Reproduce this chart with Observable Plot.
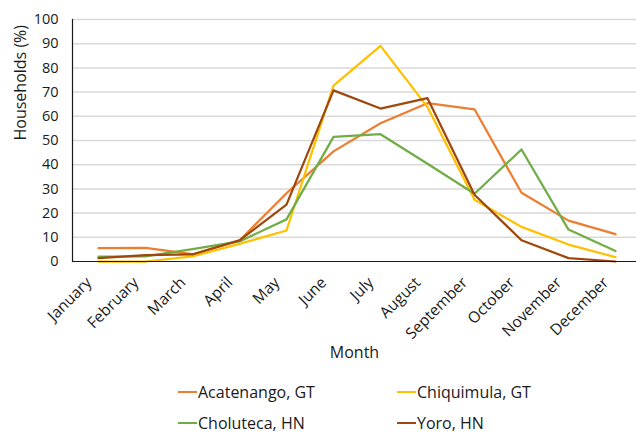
<!DOCTYPE html>
<html>
<head>
<meta charset="utf-8">
<script src="https://cdn.jsdelivr.net/npm/d3@7"></script>
<script src="https://cdn.jsdelivr.net/npm/@observablehq/plot@0.6"></script>
<style>
  html, body { margin: 0; padding: 0; background: #fff; }
  #wrap { width: 636px; font-family: "Open Sans", sans-serif; color: #1a1a1a; }
  #legend { position: relative; width: 636px; height: 63px; font-size: 16px; }
  .item { position: absolute; display: flex; align-items: center; height: 20px; white-space: nowrap; }
  .swatch { width: 19px; height: 2.5px; margin-right: 1px; }
</style>
</head>
<body>
<div id="wrap">
  <div id="chart"></div>
  <div id="legend"></div>
</div>
<script>
const months = ["January","February","March","April","May","June","July","August","September","October","November","December"];
const seriesNames = ["Acatenango, GT","Chiquimula, GT","Choluteca, HN","Yoro, HN"];
const seriesColors = ["#ED7D31","#FFC000","#70AD47","#9E480E"];
const acatenango = [5.5, 5.6, 3.0, 8.7, 28.2, 45.5, 57.1, 65.4, 62.9, 28.4, 16.9, 11.3];
const chiquimula = [0, 0, 2.1, 7.3, 12.8, 72.7, 89.1, 63.8, 25.5, 14.3, 7.0, 1.8];
const choluteca  = [2.0, 2.1, 5.1, 8.3, 17.4, 51.5, 52.6, 40.4, 28.0, 46.3, 13.2, 4.3];
const yoro       = [1.4, 2.6, 2.9, 8.7, 23.5, 70.7, 63.2, 67.5, 27.6, 8.8, 1.4, 0];
const yTicks = [0,10,20,30,40,50,60,70,80,90,100];
const yLabel = "Households (%)";
const xLabel = "Month";

const seriesValues = [acatenango, chiquimula, choluteca, yoro];
const data = seriesNames.flatMap((s, j) => months.map((m, i) => ({month: m, series: s, value: seriesValues[j][i]})));

const chart = Plot.plot({
  width: 636,
  height: 370,
  marginLeft: 72,
  marginRight: 0,
  marginTop: 19,
  marginBottom: 109,
  style: {fontFamily: "'Open Sans', sans-serif", fontSize: "15px", color: "#1a1a1a", background: "#fff"},
  x: {type: "point", domain: months, range: [96, 617], padding: 0, axis: null},
  y: {domain: [0, 100], axis: null},
  color: {domain: seriesNames, range: seriesColors},
  marks: [
    Plot.ruleY(yTicks.filter(d => d > 0), {stroke: "#d9d9d9", strokeWidth: 1.5}),
    Plot.axisY({ticks: yTicks, tickSize: 0, tickPadding: 14, label: null, fontSize: 14.5}),
    Plot.text([yLabel], {frameAnchor: "left", dx: -52, rotate: -90, fontSize: 16}),
    Plot.text(months, {x: d => d, frameAnchor: "bottom", dx: -6, dy: 22, rotate: -45, textAnchor: "end", fontSize: 15.5}),
    Plot.text([xLabel], {frameAnchor: "bottom", dy: 96, fontSize: 16}),
    Plot.line(data, {x: "month", y: "value", z: "series", stroke: "series", strokeWidth: 2.25, strokeLinejoin: "round"}),
    Plot.ruleY([0], {stroke: "#1a1a1a", strokeWidth: 1.2}),
    Plot.frame({anchor: "left", stroke: "#1a1a1a", strokeWidth: 1.2})
  ]
});
document.getElementById("chart").appendChild(chart);

const legend = document.getElementById("legend");
const pos = [[178, 12], [397, 12], [178, 43], [397, 43]];
seriesNames.forEach((s, i) => {
  const it = document.createElement("div");
  it.className = "item";
  it.style.left = pos[i][0] + "px";
  it.style.top = pos[i][1] + "px";
  const sw = document.createElement("span");
  sw.className = "swatch";
  sw.style.background = seriesColors[i];
  const tx = document.createElement("span");
  tx.textContent = s;
  it.appendChild(sw); it.appendChild(tx);
  legend.appendChild(it);
});
</script>
</body>
</html>
